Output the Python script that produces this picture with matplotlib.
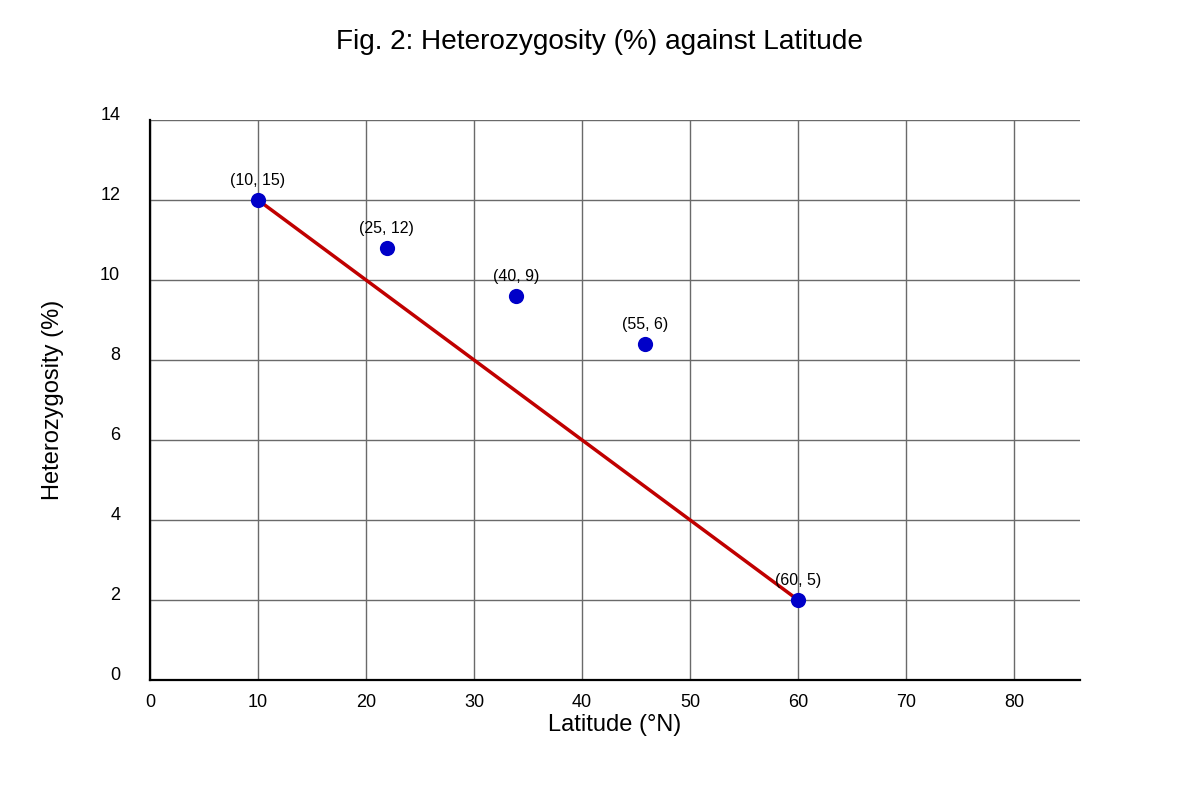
import matplotlib
matplotlib.use("Agg")
import matplotlib.pyplot as plt
import matplotlib.transforms as mtransforms

plt.rcParams['font.family'] = ['Liberation Sans', 'DejaVu Sans']

# Data
point_x = [10, 21.9, 33.9, 45.8, 60]
point_y = [12, 10.8, 9.6, 8.4, 2]
point_labels = ["(10, 15)", "(25, 12)", "(40, 9)", "(55, 6)", "(60, 5)"]
line_x = [10, 60]
line_y = [12, 2]
x_ticks = [0, 10, 20, 30, 40, 50, 60, 70, 80]
y_ticks = [0, 2, 4, 6, 8, 10, 12, 14]

fig = plt.figure(figsize=(12, 8), dpi=100)
ax = fig.add_axes([0.125, 0.15, 0.775, 0.70])
ax.set_xlim(0, 86.1)
ax.set_ylim(0, 14)

ax.set_xticks(x_ticks)
ax.set_yticks(y_ticks)
ax.grid(True, color='#6a6a6a', linewidth=1.0)
ax.set_axisbelow(True)
for s in ['top', 'right']:
    ax.spines[s].set_visible(False)
for s in ['left', 'bottom']:
    ax.spines[s].set_linewidth(1.6)
    ax.spines[s].set_color('black')
ax.tick_params(length=0, labelsize=13, colors='black')
ax.tick_params(axis='y', pad=21.5)
ax.tick_params(axis='x', pad=10)
for lab in ax.get_yticklabels():
    lab.set_transform(lab.get_transform() + mtransforms.ScaledTranslation(0, 6/100, fig.dpi_scale_trans))

ax.plot(line_x, line_y, color='#c00000', linewidth=2.5, zorder=3)
ax.scatter(point_x, point_y, s=120, color='#0000c8', zorder=4, linewidths=0)
for x, y, t in zip(point_x, point_y, point_labels):
    ax.annotate(t, (x, y), xytext=(0, 9), textcoords='offset points',
                ha='center', va='bottom', fontsize=11.5, zorder=5)

ax.set_xlabel("Latitude (°N)", fontsize=17, labelpad=2)
ax.set_ylabel("Heterozygosity (%)", fontsize=17, labelpad=26)
fig.text(0.5, 0.948, "Fig. 2: Heterozygosity (%) against Latitude", ha='center', va='center', fontsize=20.2)

fig.savefig("out.png", dpi=100)
